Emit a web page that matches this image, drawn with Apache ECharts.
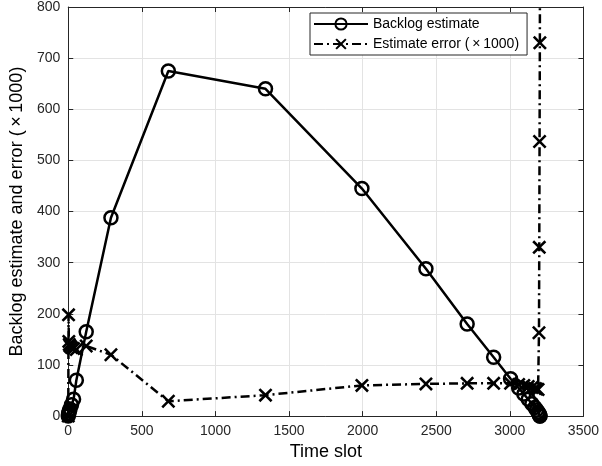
<!DOCTYPE html>
<html>
<head>
<meta charset="utf-8">
<script src="https://cdn.jsdelivr.net/npm/echarts@6/dist/echarts.min.js"></script>
<style>html,body{margin:0;padding:0;background:#fff}#c{width:602px;height:466px}</style>
</head>
<body>
<div id="c"></div>
<script>
var timeSlot = [0, 2, 4, 7, 12, 22, 36, 55, 122, 290, 680, 1340, 1995, 2430, 2710, 2890, 3005, 3060, 3095, 3125, 3150, 3170, 3182, 3192, 3198, 3200, 3202, 3204, 3205];
var backlog  = [0, 3, 6, 10, 14, 22, 33, 70, 165, 388, 675, 640, 445, 288, 180, 115, 73, 55, 43, 33, 24, 17, 12, 8, 5, 3, 1, 0, 0];
var errorX1000 = [0, 198, 146, 140, 137, 134, 132, 130, 137, 120, 29, 41, 60, 63, 64, 64, 64, 62, 60, 58, 56, 54, 53, 52, 163, 330, 537, 730, 950];
var xTicks = [0, 500, 1000, 1500, 2000, 2500, 3000, 3500];
var yTicks = [0, 100, 200, 300, 400, 500, 600, 700, 800];
var seriesNames = ['Backlog estimate', 'Estimate error (\u2009\u00d7\u20091000)'];
var xTitle = 'Time slot';
var yTitle = 'Backlog estimate and error (\u2009\u00d7\u20091000)';

var pairs = function (ys) { return timeSlot.map(function (t, i) { return [t, ys[i]]; }); };
var X_PATH = 'path://M0,1.3L1.3,0L5,3.7L8.7,0L10,1.3L6.3,5L10,8.7L8.7,10L5,6.3L1.3,10L0,8.7L3.7,5Z';
var axisCol = '#262626';
var font = 'Liberation Sans, Arial, Helvetica, sans-serif';

var chart = echarts.init(document.getElementById('c'), null, {renderer: 'canvas'});
var baseX = {
  type: 'value', min: xTicks[0], max: xTicks[xTicks.length - 1], interval: 500,
  axisLine: {show: true, onZero: false, lineStyle: {color: axisCol, width: 1}},
  axisTick: {show: true, inside: true, length: 5, lineStyle: {color: axisCol}},
  splitLine: {show: false}
};
var baseY = {
  type: 'value', min: yTicks[0], max: yTicks[yTicks.length - 1], interval: 100,
  axisLine: {show: true, onZero: false, lineStyle: {color: axisCol, width: 1}},
  axisTick: {show: true, inside: true, length: 5, lineStyle: {color: axisCol}},
  splitLine: {show: false}
};
chart.setOption({
  animation: false,
  backgroundColor: '#fff',
  grid: {left: 65, right: 16, top: 5.5, bottom: 49, containLabel: false},
  legend: {
    show: true, orient: 'vertical', left: 310, top: 13,
    data: seriesNames,
    backgroundColor: '#fff', borderColor: '#262626', borderWidth: 1, borderRadius: 0,
    padding: [4, 8, 4, 3], itemGap: 6, itemHeight: 14, itemWidth: 54,
    textStyle: {fontFamily: font, fontSize: 14, color: '#000', padding: [0, 0, 0, 0]}
  },
  xAxis: [
    Object.assign({}, baseX, {
      position: 'bottom',
      name: xTitle, nameLocation: 'middle', nameGap: 25,
      nameTextStyle: {fontFamily: font, fontSize: 18, color: '#000'},
      axisLabel: {show: true, fontFamily: font, fontSize: 14, color: axisCol, margin: 8,
                  formatter: function (v) { return String(v); }},
      splitLine: {show: true, lineStyle: {color: '#e3e3e3', width: 1}}
    }),
    Object.assign({}, baseX, {position: 'top', axisLabel: {show: false}})
  ],
  yAxis: [
    Object.assign({}, baseY, {
      position: 'left',
      name: yTitle, nameLocation: 'middle', nameGap: 33,
      nameTextStyle: {fontFamily: font, fontSize: 18, color: '#000'},
      axisLabel: {show: true, fontFamily: font, fontSize: 14, color: axisCol, margin: 8,
                  formatter: function (v) { return String(v); }},
      splitLine: {show: true, lineStyle: {color: '#e3e3e3', width: 1}}
    }),
    Object.assign({}, baseY, {position: 'right', axisLabel: {show: false}})
  ],
  series: [
    {
      name: seriesNames[0], type: 'line', data: pairs(backlog),
      xAxisIndex: 0, yAxisIndex: 0, clip: true,
      symbol: 'circle', symbolSize: 13, showAllSymbol: true,
      lineStyle: {color: '#000', width: 2.5},
      itemStyle: {color: 'rgba(255,255,255,0)', borderColor: '#000', borderWidth: 2.5},
      z: 3
    },
    {
      name: seriesNames[1], type: 'line', data: pairs(errorX1000),
      xAxisIndex: 0, yAxisIndex: 0, clip: true,
      symbol: X_PATH, symbolSize: 14, showAllSymbol: true,
      lineStyle: {color: '#000', width: 2.5, type: [9, 4, 2, 4]},
      itemStyle: {color: '#000', borderWidth: 0},
      z: 2
    }
  ]
});
</script>
</body>
</html>
